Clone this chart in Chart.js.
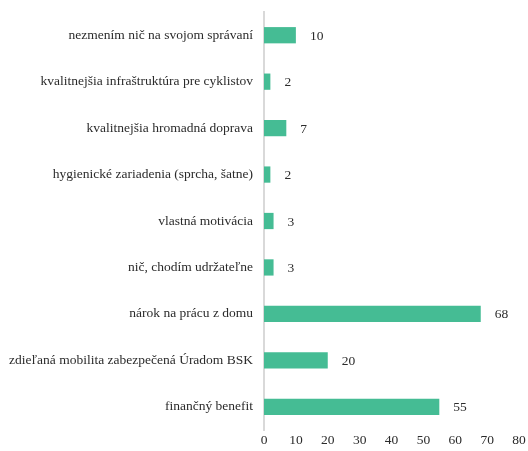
<!DOCTYPE html>
<html>
<head>
<meta charset="utf-8">
<script src="https://cdn.jsdelivr.net/npm/chart.js@4"></script>
<style>
  html, body { margin: 0; padding: 0; background: #fff; }
  #wrap { width: 528px; height: 451px; }
</style>
</head>
<body>
<div id="wrap"><canvas id="chart"></canvas></div>
<script>
const categories = [
  'nezmením nič na svojom správaní',
  'kvalitnejšia infraštruktúra pre cyklistov',
  'kvalitnejšia hromadná doprava',
  'hygienické zariadenia (sprcha, šatne)',
  'vlastná motivácia',
  'nič, chodím udržateľne',
  'nárok na prácu z domu',
  'zdieľaná mobilita zabezpečená Úradom BSK',
  'finančný benefit'
];
const counts = [10, 2, 7, 2, 3, 3, 68, 20, 55];
const xTicks = [0, 10, 20, 30, 40, 50, 60, 70, 80];

const fontFamily = "'Liberation Serif', 'Times New Roman', serif";
const textColor = '#2b2b2b';

// labels next to each bar end
const valueLabels = {
  id: 'valueLabels',
  afterDatasetsDraw(chart) {
    const ctx = chart.ctx;
    const meta = chart.getDatasetMeta(0);
    ctx.save();
    ctx.font = '13.5px ' + fontFamily;
    ctx.fillStyle = textColor;
    ctx.textAlign = 'left';
    ctx.textBaseline = 'middle';
    meta.data.forEach((bar, i) => {
      ctx.fillText(String(counts[i]), bar.x + 14, bar.y + 1);
    });
    ctx.restore();
  }
};

new Chart(document.getElementById('chart'), {
  type: 'bar',
  data: {
    labels: categories,
    datasets: [{
      data: counts,
      backgroundColor: '#45bc94',
      borderWidth: 0,
      barPercentage: 0.7,
      categoryPercentage: 0.5
    }]
  },
  options: {
    indexAxis: 'y',
    responsive: true,
    maintainAspectRatio: false,
    animation: false,
    layout: { padding: { top: 12, right: 9, left: 0, bottom: 0 } },
    plugins: {
      legend: { display: false },
      tooltip: { enabled: false }
    },
    scales: {
      x: {
        min: 0,
        max: 80,
        afterBuildTicks: (scale) => { scale.ticks = xTicks.map(v => ({ value: v })); },
        afterFit: (scale) => { scale.height = 21; },
        grid: { display: false, drawTicks: false },
        border: { display: false },
        ticks: {
          padding: 2,
          color: textColor,
          font: { family: fontFamily, size: 13.5 }
        }
      },
      y: {
        afterFit: (scale) => {
          scale.width = 264;
          scale.paddingTop = 0;
          scale.paddingBottom = 0;
        },
        grid: { display: false, drawTicks: false },
        border: { display: true, color: '#d9d9d9', width: 2 },
        ticks: {
          padding: 11,
          color: textColor,
          font: { family: fontFamily, size: 13.5 }
        }
      }
    }
  },
  plugins: [valueLabels]
});
</script>
</body>
</html>
